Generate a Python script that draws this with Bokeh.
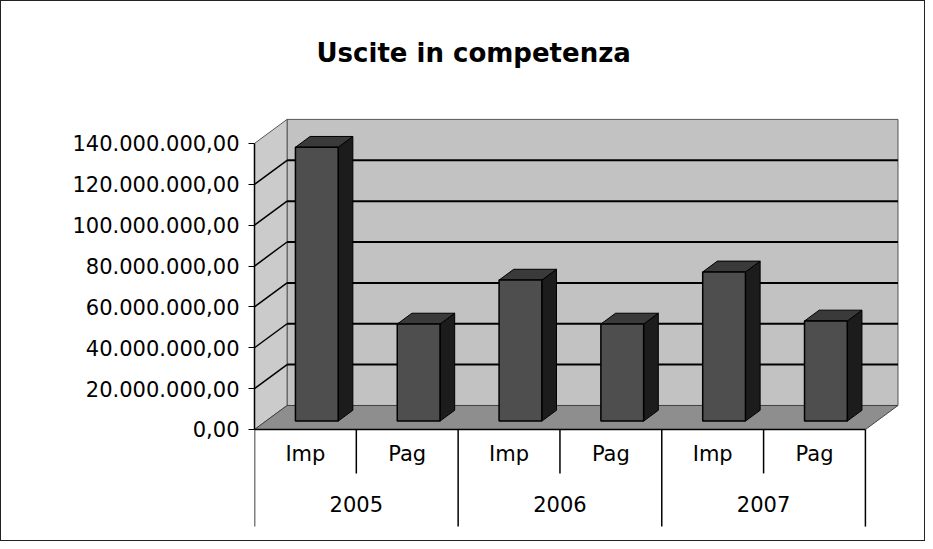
from bokeh.plotting import figure
from bokeh.models import Range1d, FixedTicker
from bokeh.embed import file_html
from bokeh.resources import INLINE
from bokeh.core.properties import value

# ---------------- data ----------------
TITLE = "Uscite in competenza"
YEARS = ["2005", "2006", "2007"]
TYPES = ["Imp", "Pag"]
VALUES = [134e6, 47.5e6, 69e6, 47.5e6, 73e6, 49e6]   # Imp/Pag per year
Y_TICKS = [0, 20e6, 40e6, 60e6, 80e6, 100e6, 120e6, 140e6]
Y_TICK_LABELS = ["0,00", "20.000.000,00", "40.000.000,00", "60.000.000,00",
                 "80.000.000,00", "100.000.000,00", "120.000.000,00",
                 "140.000.000,00"]

# ---------------- geometry / style ----------------
N = len(VALUES)
Y_MAX = Y_TICKS[-1]
DX, DY = 0.32, 11.75e6          # oblique depth of the 3-D box
BAR_W = 0.42                    # bar front width (slot units)
BAR_F = 0.35                    # depth of bar front plane (fraction)
BAR_D = 0.45                    # bar depth (fraction)
SUB_Y = -11.75e6                # row of Imp/Pag labels
YEAR_Y = -36.7e6                # row of year labels
SUB_SEP = -21.5e6
YEAR_SEP = -47.5e6

FONT = "DejaVu Sans"

p = figure(width=925, height=541, output_backend="svg", toolbar_location=None,
           x_range=Range1d(0, 6.60), y_range=Range1d(-55.3e6, 170.3e6),
           x_axis_type=None, min_border_left=253, min_border_right=0,
           min_border_top=80, min_border_bottom=0)
p.outline_line_color = None
p.ygrid.visible = False
p.background_fill_color = "white"
p.border_fill_color = "white"
p.styles = {"border": "1px solid #222222"}

# title
p.title.text = TITLE
p.title.text_font = FONT
p.title.text_font_style = "bold"
p.title.text_font_size = "26px"
p.title.align = "left"
p.title.offset = 62
p.title.standoff = 28
p.title.text_color = "black"

# ---------------- walls and floor ----------------
p.quad(left=[DX], right=[N + DX], bottom=[DY], top=[Y_MAX + DY],
       fill_color="#c2c2c2", line_color="#555555", line_width=1)
p.patch([0, DX, DX, 0], [0, DY, Y_MAX + DY, Y_MAX],
        fill_color="#cbcbcb", line_color="#555555", line_width=1)
p.patch([0, N, N + DX, DX], [0, 0, DY, DY],
        fill_color="#8e8e8e", line_color="#444444", line_width=1)

grid_vals = [t for t in Y_TICKS if 0 < t < Y_MAX]
p.segment(x0=[DX] * len(grid_vals), y0=[g + DY for g in grid_vals],
          x1=[N + DX] * len(grid_vals), y1=[g + DY for g in grid_vals],
          line_color="black", line_width=2)
p.segment(x0=[0] * len(grid_vals), y0=grid_vals,
          x1=[DX] * len(grid_vals), y1=[g + DY for g in grid_vals],
          line_color="black", line_width=1.5)

# ---------------- 3-D bars ----------------
fx, fy = BAR_F * DX, BAR_F * DY
bx, by = BAR_D * DX, BAR_D * DY
lefts = [i + 0.5 - BAR_W / 2 + fx for i in range(N)]
rights = [l + BAR_W for l in lefts]

side_xs, side_ys, top_xs, top_ys = [], [], [], []
for l, r, v in zip(lefts, rights, VALUES):
    side_xs.append([r, r + bx, r + bx, r])
    side_ys.append([fy, fy + by, v + fy + by, v + fy])
    top_xs.append([l, r, r + bx, l + bx])
    top_ys.append([v + fy, v + fy, v + fy + by, v + fy + by])

p.patches(side_xs, side_ys, fill_color="#1c1c1c", line_color="black", line_width=1)
p.patches(top_xs, top_ys, fill_color="#3a3a3a", line_color="black", line_width=1)
p.quad(left=lefts, right=rights, bottom=[fy] * N, top=[v + fy for v in VALUES],
       fill_color="#4e4e4e", line_color="black", line_width=1.5)

# ---------------- category table ----------------
p.segment(x0=[0], y0=[0], x1=[N], y1=[0], line_color="black", line_width=1.5)
sub_x = [i + 0.5 for i in range(N)]
sub_t = [TYPES[i % len(TYPES)] for i in range(N)]
p.text(x=sub_x, y=[SUB_Y] * N, text=sub_t, text_font=value(FONT),
       text_font_size="21px", text_align="center", text_baseline="middle",
       text_color="black")
grp = len(TYPES)
year_x = [k * grp + grp / 2 for k in range(len(YEARS))]
p.text(x=year_x, y=[YEAR_Y] * len(YEARS), text=YEARS, text_font=value(FONT),
       text_font_size="21px", text_align="center", text_baseline="middle",
       text_color="black")
inner = [k * grp + j for k in range(len(YEARS)) for j in range(1, grp)]
p.segment(x0=inner, y0=[0] * len(inner), x1=inner, y1=[SUB_SEP] * len(inner),
          line_color="black", line_width=1.5)
outer = [k * grp for k in range(len(YEARS) + 1)]
p.segment(x0=outer, y0=[0] * len(outer), x1=outer, y1=[YEAR_SEP] * len(outer),
          line_color="black", line_width=1.5)

# ---------------- value axis ----------------
ax = p.yaxis[0]
ax.ticker = FixedTicker(ticks=Y_TICKS)
ax.major_label_overrides = {t: s for t, s in zip(Y_TICKS, Y_TICK_LABELS)}
ax.bounds = (0, Y_MAX)
ax.axis_line_color = "black"
ax.axis_line_width = 1.5
ax.major_tick_out = 6
ax.major_tick_in = 0
ax.major_tick_line_color = "black"
ax.minor_tick_line_color = None
ax.major_label_standoff = 9
ax.major_label_text_font = FONT
ax.major_label_text_font_size = "21px"
ax.major_label_text_color = "black"

open("out.html", "w").write(file_html(p, INLINE))
